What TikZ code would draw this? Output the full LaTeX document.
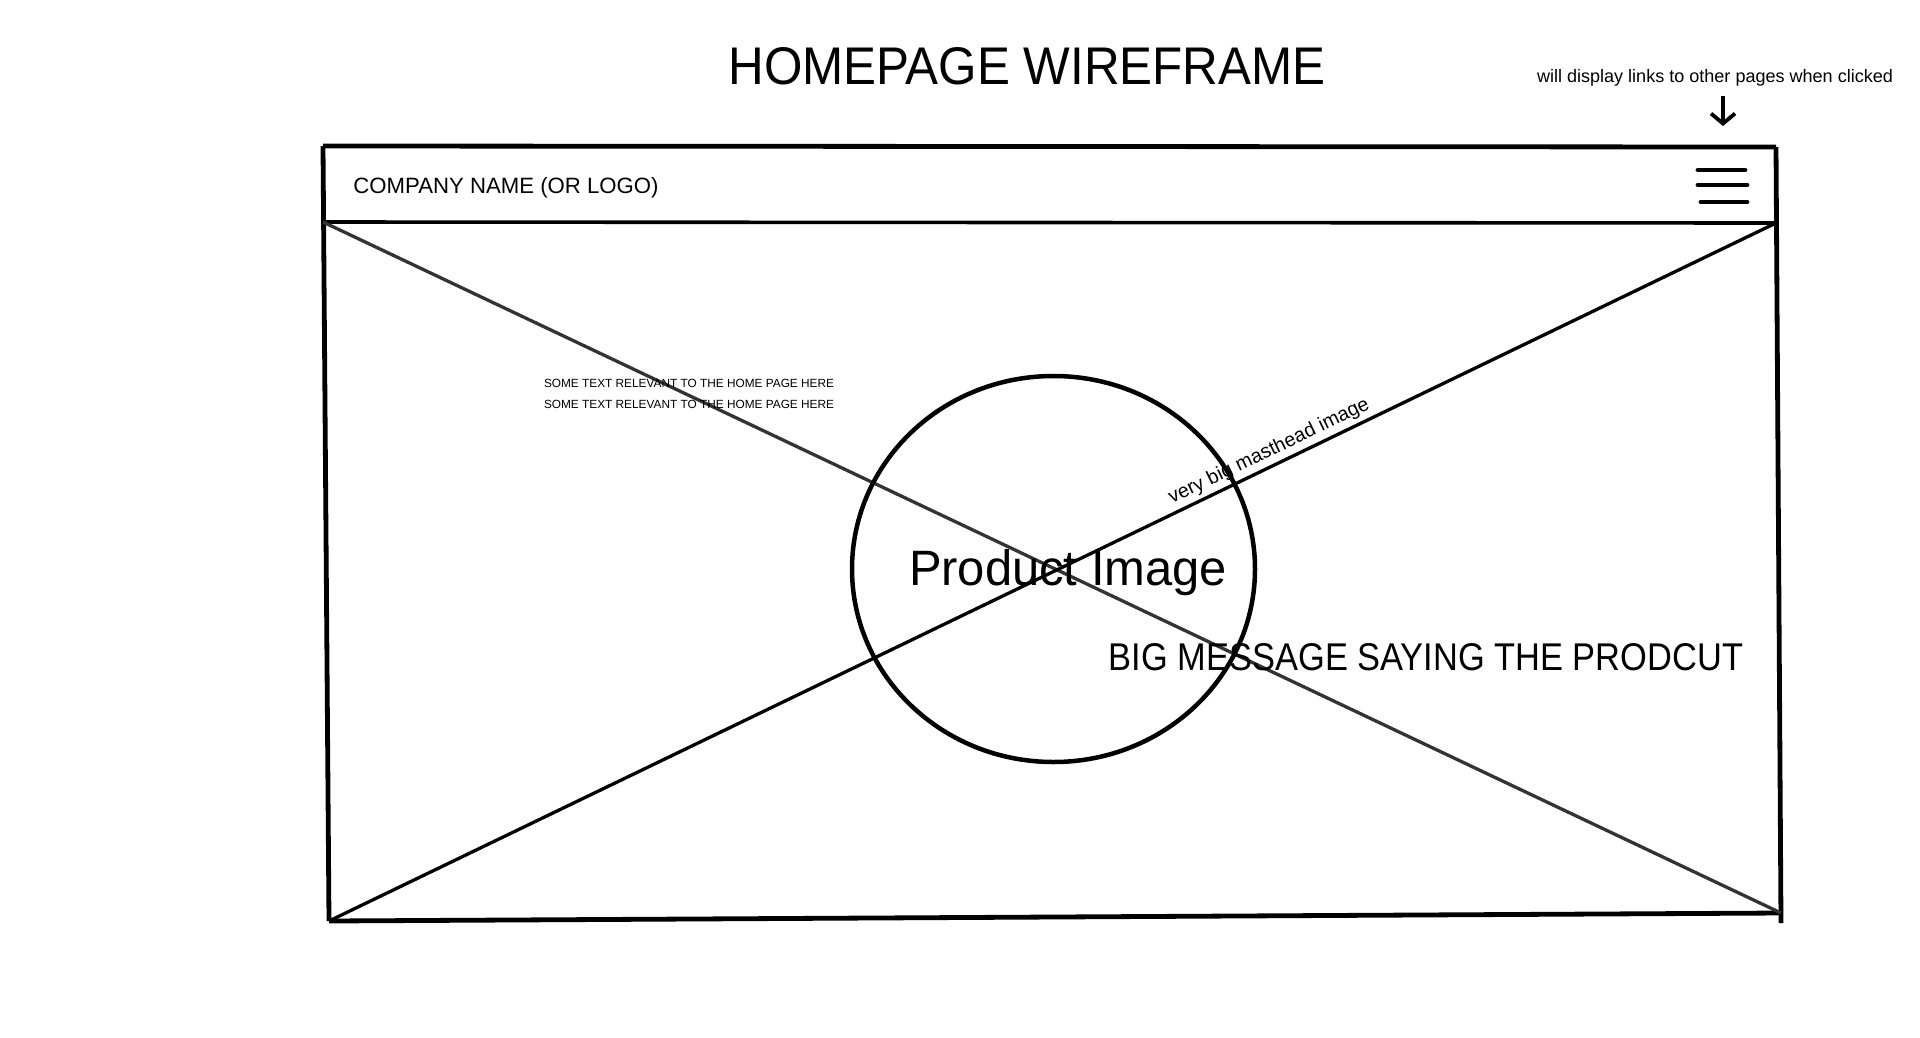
\documentclass[tikz,border=0pt]{standalone}
\usepackage{graphicx}
\usepackage{fontspec}
\setmainfont{Liberation Sans}
\usetikzlibrary{arrows.meta,shapes.geometric}
\begin{document}
\begin{tikzpicture}[x=1pt,y=-1pt,line join=round,
  frame/.style={line width=4.8pt},
  rule/.style={line width=3.6pt},
  cross/.style={line width=3.3pt},
  burger/.style={line width=4.8pt,line cap=round},
  txt/.style={inner sep=0pt,outer sep=0pt}]
\useasboundingbox (0,0) rectangle (1920,1037);
\fill[white] (0,0) rectangle (1920,1037);

% corners of the page frame
\coordinate (tl) at (323,146);
\coordinate (tr) at (1776,147);
\coordinate (hl) at (323,222);
\coordinate (hr) at (1776,223);
\coordinate (bl) at (329,921);
\coordinate (br) at (1781,913);
\coordinate (brx) at (1781,923);

% outer frame and header rule
\draw[frame] (tl) -- (tr);
\draw[frame] (tl) -- (bl);
\draw[frame] (tr) -- (brx);
\draw[frame] (bl) -- (br);
\draw[rule] (hl) -- (hr);

% image placeholder cross
\draw[cross,black!80] (hl) -- (br);
\draw[cross] (bl) -- (hr);
\path (bl) -- (hr) node[pos=0.654,sloped,above=5pt,inner sep=0pt]
  (mast) {\fontsize{19.7pt}{22pt}\selectfont very big masthead image};

% product circle
\node[draw,ellipse,line width=4.5pt,minimum width=403pt,minimum height=386pt,inner sep=0pt]
  (prod) at (1053.5,569) {};
\node[txt,anchor=base] (prodtxt) at (1068,585) {\resizebox{318pt}{36pt}{Product Image}};

% header contents
\node[txt,anchor=base] (company) at (506,193) {\resizebox{305pt}{!}{COMPANY NAME (OR LOGO)}};
\draw[burger] (1698,170) -- (1745,170);
\draw[burger] (1698,185) -- (1747,185);
\draw[burger] (1701,202) -- (1747,202);

% page title and menu note
\node[txt] (title) at (1027,66) {\resizebox{597pt}{37pt}{HOMEPAGE WIREFRAME}};
\node[txt,anchor=base] (note) at (1715,82) {\resizebox{356pt}{!}{will display links to other pages when clicked}};
\coordinate (arrtop) at (1723,96);
\coordinate (arrtip) at (1723,126);
\draw[line width=3.8pt,-{Straight Barb[length=10pt,width=24pt]}] (arrtop) -- (arrtip);

% body text
\node[txt,anchor=base] (body1) at (689,387) {\resizebox{290pt}{!}{SOME TEXT RELEVANT TO THE HOME PAGE HERE}};
\node[txt,anchor=base] (body2) at (689,408) {\resizebox{290pt}{!}{SOME TEXT RELEVANT TO THE HOME PAGE HERE}};
\node[txt] (msg) at (1426,657) {\resizebox{634pt}{27pt}{BIG MESSAGE SAYING THE PRODCUT}};
\end{tikzpicture}
\end{document}
